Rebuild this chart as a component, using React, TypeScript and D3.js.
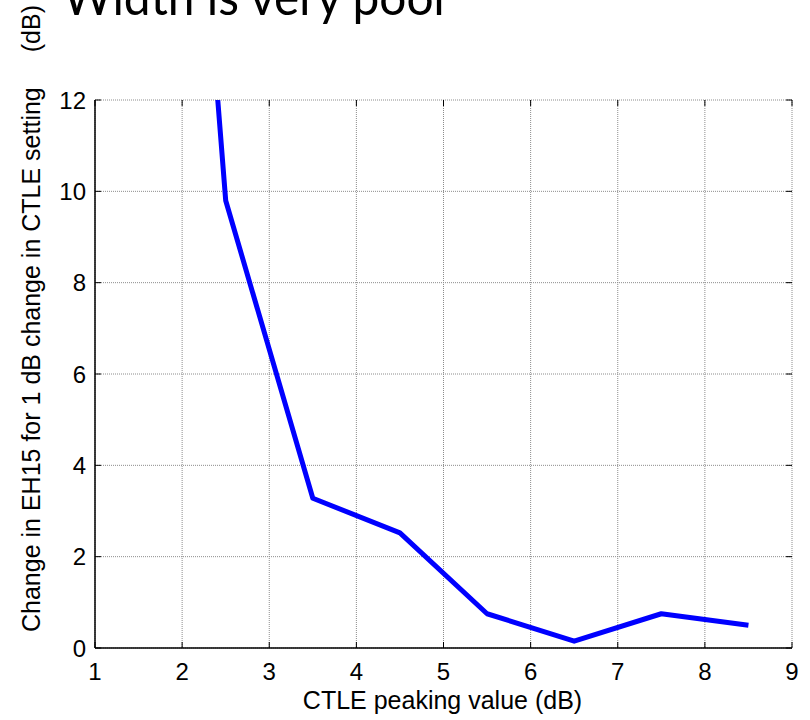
import React from "react";
import * as d3 from "d3";

const peakingValues = [1.5, 2.5, 3.5, 4.5, 5.5, 6.5, 7.5, 8.5];
const eh15Change = [34, 9.8, 3.28, 2.52, 0.75, 0.15, 0.75, 0.5];
const xTicks = [1, 2, 3, 4, 5, 6, 7, 8, 9];
const yTicks = [0, 2, 4, 6, 8, 10, 12];
const titleText = "Width is very poor";
const xLabel = "CTLE peaking value (dB)";
const yLabelMain = "Change in EH15 for 1 dB change in CTLE setting";
const yLabelUnit = "(dB)";

const W = 810;
const H = 720;
const left = 95;
const right = 792;
const top = 100;
const bottom = 648;

export default function App() {
  const x = d3.scaleLinear().domain([1, 9]).range([left, right]);
  const y = d3.scaleLinear().domain([0, 12]).range([bottom, top]);
  const pts = peakingValues.map((v, i) => [v, eh15Change[i]] as [number, number]);
  const line = d3
    .line<[number, number]>()
    .x((d) => x(d[0]))
    .y((d) => y(d[1]));
  const font = "Arial, 'Liberation Sans', sans-serif";
  const tickLen = 6;
  return (
    <svg
      width={W}
      height={H}
      style={{ position: "absolute", left: 0, top: 0, background: "#fff" }}
      fontFamily={font}
    >
      <rect x={0} y={0} width={W} height={H} fill="#fff" />
      <defs>
        <clipPath id="plotClip">
          <rect x={left} y={top} width={right - left} height={bottom - top} />
        </clipPath>
      </defs>
      {xTicks.map((t) => (
        <line
          key={"gx" + t}
          x1={x(t)}
          x2={x(t)}
          y1={top}
          y2={bottom}
          stroke="#8c8c8c"
          strokeWidth={1}
          strokeDasharray="1,1"
        />
      ))}
      {yTicks.map((t) => (
        <line
          key={"gy" + t}
          x1={left}
          x2={right}
          y1={y(t)}
          y2={y(t)}
          stroke="#8c8c8c"
          strokeWidth={1}
          strokeDasharray="1,1"
        />
      ))}
      {xTicks.map((t) => (
        <g key={"tx" + t}>
          <line x1={x(t)} x2={x(t)} y1={bottom} y2={bottom - tickLen} stroke="#000" strokeWidth={1} />
          <line x1={x(t)} x2={x(t)} y1={top} y2={top + tickLen} stroke="#000" strokeWidth={1} />
        </g>
      ))}
      {yTicks.map((t) => (
        <g key={"ty" + t}>
          <line x1={left} x2={left + tickLen} y1={y(t)} y2={y(t)} stroke="#000" strokeWidth={1} />
          <line x1={right} x2={right - tickLen} y1={y(t)} y2={y(t)} stroke="#000" strokeWidth={1} />
        </g>
      ))}
      <line x1={left} x2={left} y1={top} y2={bottom} stroke="#000" strokeWidth={1.5} />
      <line x1={left} x2={right} y1={bottom} y2={bottom} stroke="#000" strokeWidth={1.5} />
      <path
        d={line(pts) || ""}
        fill="none"
        stroke="#0000ff"
        strokeWidth={5}
        strokeLinejoin="round"
        clipPath="url(#plotClip)"
      />
      {xTicks.map((t) => (
        <text key={"lx" + t} x={x(t)} y={680} fontSize={24} textAnchor="middle" fill="#000">
          {t}
        </text>
      ))}
      {yTicks.map((t) => (
        <text
          key={"ly" + t}
          x={86}
          y={y(t) + 8.5}
          fontSize={24}
          textAnchor="end"
          fill="#000"
        >
          {t}
        </text>
      ))}
      <text x={(left + right) / 2 - 1} y={709} fontSize={25} textAnchor="middle" fill="#000">
        {xLabel}
      </text>
      <text
        transform={`translate(40,632) rotate(-90)`}
        fontSize={25}
        textAnchor="start"
        fill="#000"
      >
        {yLabelMain}
      </text>
      <text
        transform={`translate(40,5) rotate(-90)`}
        fontSize={25}
        textAnchor="end"
        fill="#000"
      >
        {yLabelUnit}
      </text>
      <text
        x={63}
        y={15}
        fontSize={50}
        fontFamily="Lato, 'Open Sans', sans-serif"
        textLength={388}
        lengthAdjust="spacingAndGlyphs"
        fill="#000"
      >
        {titleText}
      </text>
    </svg>
  );
}
